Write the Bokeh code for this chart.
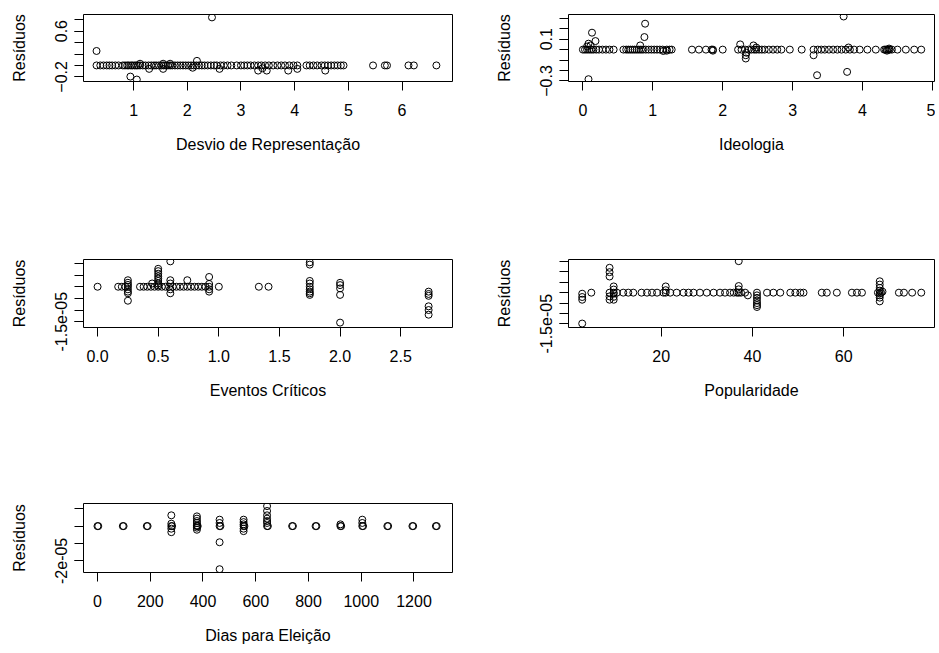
from bokeh.plotting import figure
from bokeh.layouts import column, row
from bokeh.models import Range1d, FixedTicker, NumeralTickFormatter
from bokeh.embed import file_html
from bokeh.resources import INLINE

# ---------------- data ----------------
# Panel 1: Desvio de Representação
desvio_x = [0.31, 0.38, 0.44, 0.50, 0.55, 0.60, 0.66, 0.72, 0.80, 0.84, 0.88, 0.91, 0.95, 0.98,
            1.02, 1.05, 1.08, 1.12, 1.17, 1.22, 1.28, 1.33, 1.38, 1.42, 1.47, 1.52, 1.56, 1.60,
            1.64, 1.68, 1.72, 1.77, 1.82, 1.87, 1.92, 1.97, 2.02, 2.07, 2.12, 2.17, 2.22, 2.27,
            2.32, 2.38, 2.44, 2.50, 2.55, 2.62, 2.68, 2.75, 2.82, 2.92, 3.00, 3.06, 3.12, 3.18,
            3.25, 3.32, 3.38, 3.45, 3.52, 3.60, 3.68, 3.75, 3.82, 3.90, 3.98, 4.05, 4.22, 4.28,
            4.35, 4.42, 4.50, 4.56, 4.62, 4.68, 4.74, 4.80, 4.86, 4.91, 5.46, 5.68, 5.72, 6.12,
            6.22, 6.64,
            1.12, 1.55, 1.68, 2.18, 1.29, 1.55, 2.10, 2.60, 3.32, 3.48, 3.40, 3.88, 4.05, 4.57,
            0.31, 0.94, 1.06, 2.46]
desvio_res = [0.0] * 86 + [0.03, 0.03, 0.03, 0.08, -0.06, -0.06, -0.04, -0.06, -0.09, -0.09,
                           -0.05, -0.09, -0.06, -0.09,
                           0.253, -0.195, -0.247, 0.84]

# Panel 2: Ideologia
ideol_x = [0.00, 0.03, 0.06, 0.09, 0.12, 0.15, 0.19, 0.23, 0.28, 0.33, 0.38, 0.44, 0.58, 0.62,
           0.65, 0.68, 0.71, 0.74, 0.77, 0.80, 0.83, 0.86, 0.90, 0.94, 0.98, 1.02, 1.06, 1.10,
           1.14, 1.20, 1.24, 1.27, 1.56, 1.66, 1.76, 1.84, 1.86, 2.00, 2.22, 2.27, 2.32, 2.37,
           2.41, 2.45, 2.48, 2.52, 2.56, 2.60, 2.66, 2.72, 2.78, 2.84, 2.96, 3.13, 3.30, 3.36,
           3.41, 3.46, 3.52, 3.58, 3.64, 3.70, 3.76, 3.82, 3.88, 3.96, 4.07, 4.19, 4.31, 4.33,
           4.35, 4.37, 4.39, 4.42, 4.50, 4.62, 4.74, 4.84,
           0.08, 0.13, 0.18, 0.08, 0.06, 0.11, 0.89, 0.88, 0.82, 1.15, 1.20, 2.25, 2.33, 2.33,
           2.34, 2.44, 2.48, 3.30, 3.35, 3.73, 3.78, 3.80, 4.35, 4.38, 1.86]
ideol_res = [0.0] * 78 + [-0.283, 0.162, 0.082, 0.057, 0.03, 0.04, 0.248, 0.12, 0.04, -0.013,
                          -0.01, 0.05, -0.054, -0.085, -0.03, 0.04, 0.02, -0.054, -0.245, 0.317,
                          -0.213, 0.02, -0.01, 0.01, -0.01]

# Panel 3: Eventos Críticos
eventos_x = [0.00, 0.17, 0.20, 0.23, 0.25, 0.35, 0.38, 0.41, 0.44, 0.47, 0.50, 0.53, 0.56, 0.59,
             0.62, 0.65, 0.68, 0.71, 0.74, 0.77, 0.80, 0.83, 0.86, 0.89, 0.92, 1.00, 1.33, 1.41,
             0.25, 0.25, 0.25, 0.25, 0.25, 0.25, 0.25,
             0.50, 0.50, 0.50, 0.50, 0.50, 0.50, 0.50, 0.50,
             0.45, 0.60, 0.60, 0.60, 0.60, 0.60, 0.74, 0.92, 0.92, 0.92, 0.92,
             1.75, 1.75, 1.75, 1.75, 1.75, 1.75, 1.75, 1.75, 1.75,
             2.00, 2.00, 2.00, 2.00, 2.00,
             2.73, 2.73, 2.73, 2.73, 2.73, 2.73]
eventos_res = [0.0] * 28 + [2.8e-6, 1.7e-6, 0.8e-6, -1.1e-6, -2.1e-6, -2.8e-6, -6.0e-6,
                            7.7e-6, 6.7e-6, 5.6e-6, 4.5e-6, 3.5e-6, 2.5e-6, 1.4e-6, 0.6e-6,
                            1.4e-6, 1.09e-5, 2.8e-6, 1.4e-6, -1.1e-6, -2.8e-6, 2.8e-6,
                            4.2e-6, 1.2e-6, -1.1e-6, -2.1e-6,
                            1.05e-5, 9.5e-6, 2.5e-6, 1.4e-6, 0.0, -1.1e-6, -2.1e-6, -2.8e-6, -3.5e-6,
                            1.7e-6, 0.7e-6, -0.7e-6, -3.5e-6, -1.54e-5,
                            -2.1e-6, -3.1e-6, -3.9e-6, -8.4e-6, -1.0e-5, -1.2e-5]

# Panel 4: Popularidade
popul_x = [4.7, 8.7, 9.6, 10.3, 11.7, 12.8, 13.9, 15.7, 16.9, 18.0, 19.1, 20.5, 21.0, 22.0,
           23.4, 24.9, 26.0, 27.1, 28.5, 30.0, 31.5, 32.9, 34.0, 35.1, 35.9, 36.6, 37.0, 37.5,
           38.4, 41.0, 43.2, 44.6, 46.1, 48.3, 49.4, 50.5, 51.2, 55.2, 56.3, 58.5, 61.8, 62.9,
           64.0, 67.5, 68.2, 72.1, 73.2, 75.0, 77.0,
           2.7, 2.7, 2.7, 2.7,
           8.7, 8.7, 8.7, 8.7, 8.7,
           9.6, 9.6, 9.6, 9.6, 9.6,
           21.0, 21.0, 37.0, 37.0, 37.0, 39.0,
           41.0, 41.0, 41.0, 41.0, 41.0, 41.0,
           67.9, 67.9, 67.9, 67.9, 67.9, 67.9, 67.9, 67.9, 68.5]
popul_res = [0.0] * 49 + [-0.5e-6, -2.1e-6, -3.4e-6, -1.49e-5,
                          1.2e-5, 9.9e-6, 7.8e-6, -1.8e-6, -3.4e-6,
                          3.0e-6, 1.5e-6, -0.5e-6, -2.0e-6, -3.4e-6,
                          3.0e-6, 1.2e-6, 1.52e-5, 3.2e-6, 1.6e-6, -1.3e-6,
                          -1.3e-6, -2.5e-6, -3.8e-6, -5.0e-6, -6.0e-6, -6.9e-6,
                          5.5e-6, 3.9e-6, 2.3e-6, 1.0e-6, -0.3e-6, -1.3e-6, -2.4e-6, -4.2e-6, 0.5e-6]

# Panel 5: Dias para Eleição
dias_x = [0, 3, 96, 99, 187, 190, 280, 283, 377, 380, 463, 466, 554, 557, 643, 646, 738, 741,
          827, 830, 921, 924, 1004, 1007, 1099, 1102, 1194, 1197, 1283, 1286,
          280, 280, 280, 280,
          377, 377, 377, 377, 377, 377, 377,
          463, 463, 463, 463,
          554, 554, 554, 554, 554,
          643, 643, 643, 643, 643, 643,
          921, 1004, 1004]
dias_res = [0.0] * 30 + [6.2e-6, 1.4e-6, -1.5e-6, -3.5e-6,
                         5.6e-6, 4.3e-6, 2.9e-6, 1.8e-6, 0.4e-6, -0.9e-6, -2.1e-6,
                         3.7e-6, 1.8e-6, -9.3e-6, -2.48e-5,
                         3.7e-6, 2.3e-6, 1.0e-6, -1.5e-6, -2.9e-6,
                         1.15e-5, 8.7e-6, 6.2e-6, 4.3e-6, 2.9e-6, 1.8e-6,
                         1.0e-6, 3.7e-6, 1.8e-6]

# tick sets
p1_xticks = [1, 2, 3, 4, 5, 6]
p1_ylab = [-0.2, 0.6]
p1_yall = [-0.2, 0.0, 0.2, 0.4, 0.6, 0.8]
p2_xticks = [0, 1, 2, 3, 4, 5]
p2_ylab = [-0.3, 0.1]
p2_yall = [-0.3, -0.2, -0.1, 0.0, 0.1, 0.2, 0.3]
p3_xticks = [0.0, 0.5, 1.0, 1.5, 2.0, 2.5]
p3_ylab = [-1.5e-05]
p3_yall = [-1.5e-05, -1e-05, -5e-06, 0.0, 5e-06, 1e-05]
p4_xticks = [20, 40, 60]
p4_ylab = [-1.5e-05]
p4_yall = [-1.5e-05, -1e-05, -5e-06, 0.0, 5e-06, 1e-05, 1.5e-05]
p5_xticks = [0, 200, 400, 600, 800, 1000, 1200]
p5_ylab = [-2e-05]
p5_yall = [-2e-05, -1e-05, 0.0, 1e-05]

FONT = "Liberation Sans"
FS = "16px"


def panel(x, y, xr, yr, xticks, ylab, yall, xlabel, overrides, width, height, bl, br, bt, bb,
          xfmt=None):
    p = figure(width=width, height=height, output_backend="svg", toolbar_location=None,
               x_range=Range1d(*xr), y_range=Range1d(*yr),
               min_border_left=bl, min_border_right=br, min_border_top=bt, min_border_bottom=bb)
    p.scatter(x, y, marker="circle", size=7, fill_color=None, line_color="black", line_width=1)
    p.grid.visible = False
    p.outline_line_color = "black"
    p.outline_line_alpha = 1.0
    p.outline_line_width = 1
    xa = p.xaxis[0]
    ya = p.yaxis[0]
    xa.ticker = FixedTicker(ticks=xticks)
    if xfmt is not None:
        xa.formatter = NumeralTickFormatter(format=xfmt)
    ya.ticker = FixedTicker(ticks=ylab, minor_ticks=yall)
    ya.major_label_overrides = overrides
    xa.axis_label = xlabel
    ya.axis_label = "Resíduos"
    for ax in (xa, ya):
        ax.axis_line_color = None
        ax.major_tick_in = 0
        ax.major_tick_out = 9
        ax.major_tick_line_color = "black"
        ax.major_label_text_font = FONT
        ax.major_label_text_font_size = FS
        ax.major_label_text_color = "black"
        ax.axis_label_text_font = FONT
        ax.axis_label_text_font_size = FS
        ax.axis_label_text_font_style = "normal"
        ax.axis_label_text_color = "black"
    xa.minor_tick_line_color = None
    ya.minor_tick_in = 0
    ya.minor_tick_out = 9
    ya.minor_tick_line_color = "black"
    ya.major_label_orientation = "parallel"
    xa.major_label_standoff = 13
    xa.axis_label_standoff = 17
    ya.major_label_standoff = 7
    ya.axis_label_standoff = 25
    return p


p1 = panel(desvio_x, desvio_res, (0.067, 6.94), (-0.281, 0.891), p1_xticks, p1_ylab, p1_yall,
           "Desvio de Representação", {}, 488, 253, 83, 36, 13, 172)
p2 = panel(ideol_x, ideol_res, (-0.206, 5.03), (-0.305, 0.336), p2_xticks, p2_ylab, p2_yall,
           "Ideologia", {}, 447, 253, 80, 1, 14, 171)
p3 = panel(eventos_x, eventos_res, (-0.116, 2.927), (-1.75e-05, 1.17e-05), p3_xticks, p3_ylab, p3_yall,
           "Eventos Críticos", {-1.5e-05: "-1.5e-05"}, 488, 245, 83, 36, 6, 170, xfmt="0.0")
p4 = panel(popul_x, popul_res, (-0.3, 79.9), (-1.68e-05, 1.6e-05), p4_xticks, p4_ylab, p4_yall,
           "Popularidade", {-1.5e-05: "-1.5e-05"}, 447, 245, 80, 1, 6, 171)
p5 = panel(dias_x, dias_res, (-53, 1346), (-2.67e-05, 1.3e-05), p5_xticks, p5_ylab, p5_yall,
           "Dias para Eleição", {-2e-05: "-2e-05"}, 488, 150, 83, 36, 5, 76)

layout = column(row(p1, p2), row(p3, p4), p5)

open("out.html", "w").write(file_html(layout, INLINE))
